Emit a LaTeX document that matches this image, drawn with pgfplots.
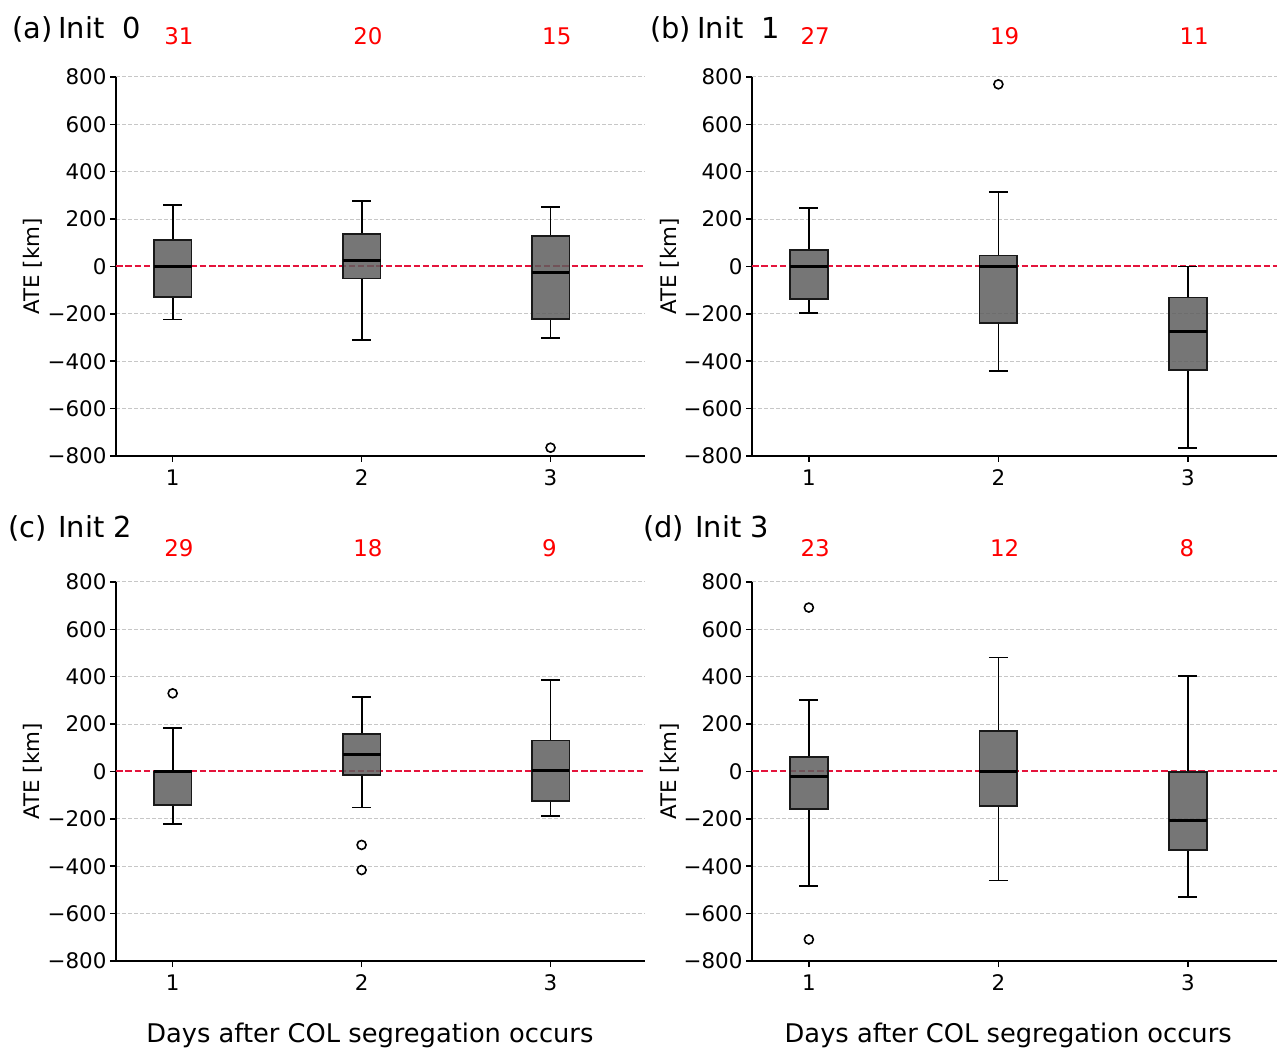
\documentclass[border=0pt]{standalone}
\usepackage{fontspec}
\setmainfont{DejaVu Sans}
\usepackage{pgfplots}
\pgfplotsset{compat=1.18}
\definecolor{zeroline}{RGB}{228,20,60}
\newcommand{\tickfont}{\fontsize{21.5}{25}\selectfont}
\tikzset{cnt/.style={anchor=west, text=red, font=\fontsize{23}{27}\selectfont, inner sep=0pt},
  zld/.style={draw=zeroline, line width=2bp, dash pattern=on 6.5bp off 2.8bp}}
\pgfplotsset{
  panel/.style={
    scale only axis, height=379bp,
    ymin=-800, ymax=800, xmin=0.7,
    axis x line=bottom, axis y line=left,
    axis line style={-, line width=1.9bp, black},
    tick align=outside, major tick length=6bp,
    every tick/.style={black, line width=1.5bp},
    xtick={1,2,3}, xticklabels={1,2,3},
    xticklabel style={yshift=-4bp},
    ytick={-800,-600,-400,-200,200,400,600,800},
    yticklabels={−800,−600,−400,−200,200,400,600,800},
    extra y ticks={0}, extra y tick labels={0},
    extra y tick style={grid=none},
    /pgf/number format/assume math mode=true,
    ticklabel style={font=\tickfont},
    ymajorgrids, grid style={black!22, line width=1bp, dash pattern=on 4bp off 2bp},
    clip=false,
    ylabel={ATE [km]},
    ylabel style={font=\fontsize{21.5}{25}\selectfont, at={(axis description cs:-0.157,0.5)}, anchor=center},
    xlabel style={font=\fontsize{25.8}{30}\selectfont},
  },
  wh/.style={solid, black, line width=1.8bp, no markers},
  boxst/.style={solid, draw=black!90, line width=1.8bp, fill=black!63, fill opacity=0.85, no markers},
  medst/.style={solid, black, line width=3bp, no markers},
  outl/.style={only marks, mark=o, mark size=4.5bp, mark options={draw=black, fill=none, line width=1.6bp}},
}
% #1 position, #2 lower whisker, #3 lower quartile, #4 median, #5 upper quartile, #6 upper whisker
\newcommand{\bxp}[6]{%
  \pgfmathsetmacro\bxL{#1-0.1}\pgfmathsetmacro\bxR{#1+0.1}%
  \pgfmathsetmacro\cpL{#1-0.05}\pgfmathsetmacro\cpR{#1+0.05}%
  \addplot[wh] coordinates {(#1,#2) (#1,#3)};
  \addplot[wh] coordinates {(#1,#5) (#1,#6)};
  \addplot[wh] coordinates {(\cpL,#2) (\cpR,#2)};
  \addplot[wh] coordinates {(\cpL,#6) (\cpR,#6)};
  \addplot[boxst] coordinates {(\bxL,#3) (\bxR,#3) (\bxR,#5) (\bxL,#5)} -- cycle;
  \addplot[medst] coordinates {(\bxL,#4) (\bxR,#4)};
}
\begin{document}
\begin{tikzpicture}
\useasboundingbox (0,0) rectangle (1277bp,1049bp);
% ---------------- (a)
\begin{axis}[panel, at={(116bp,593bp)}, anchor=south west, width=529bp, xmax=3.5]
\draw[zld] (axis cs:0.7,0) -- (axis cs:3.5,0);
\bxp{1}{-224}{-128}{0}{112}{261}
\bxp{2}{-312}{-51}{24}{138}{278}
\bxp{3}{-302}{-222}{-27}{129}{250}
\addplot[outl] coordinates {(3,-765)};
\node[cnt] at (axis cs:0.955,973) {31};
\node[cnt] at (axis cs:1.955,973) {20};
\node[cnt] at (axis cs:2.955,973) {15};
\end{axis}
% ---------------- (b)
\begin{axis}[panel, at={(752bp,593bp)}, anchor=south west, width=525bp, xmax=3.47]
\draw[zld] (axis cs:0.7,0) -- (axis cs:3.47,0);
\bxp{1}{-197}{-138}{0}{70}{247}
\bxp{2}{-440}{-239}{0}{46}{314}
\bxp{3}{-765}{-436}{-274}{-131}{0}
\addplot[outl] coordinates {(2,769)};
\node[cnt] at (axis cs:0.955,973) {27};
\node[cnt] at (axis cs:1.955,973) {19};
\node[cnt] at (axis cs:2.955,973) {11};
\end{axis}
% ---------------- (c)
\begin{axis}[panel, at={(116bp,88bp)}, anchor=south west, width=529bp, xmax=3.5,
  xlabel={Days after COL segregation occurs},
  xlabel style={at={(axis description cs:0.48,-0.195)}, anchor=center}]
\draw[zld] (axis cs:0.7,0) -- (axis cs:3.5,0);
\bxp{1}{-223}{-142}{0}{0}{184}
\bxp{2}{-152}{-15}{72}{159}{313}
\bxp{3}{-187}{-124}{3}{131}{386}
\addplot[outl] coordinates {(1,330) (2,-310) (2,-416)};
\node[cnt] at (axis cs:0.955,944) {29};
\node[cnt] at (axis cs:1.955,944) {18};
\node[cnt] at (axis cs:2.955,944) {9};
\end{axis}
% ---------------- (d)
\begin{axis}[panel, at={(752bp,88bp)}, anchor=south west, width=525bp, xmax=3.47,
  xlabel={Days after COL segregation occurs},
  xlabel style={at={(axis description cs:0.488,-0.195)}, anchor=center}]
\draw[zld] (axis cs:0.7,0) -- (axis cs:3.47,0);
\bxp{1}{-484}{-159}{-22}{62}{302}
\bxp{2}{-460}{-146}{0}{170}{481}
\bxp{3}{-531}{-333}{-205}{-3}{403}
\addplot[outl] coordinates {(1,692) (1,-709)};
\node[cnt] at (axis cs:0.955,944) {23};
\node[cnt] at (axis cs:1.955,944) {12};
\node[cnt] at (axis cs:2.955,944) {8};
\end{axis}
% ---------------- titles
\begin{scope}[every node/.style={anchor=base west, inner sep=0pt, font=\fontsize{29}{33}\selectfont}]
\node at (12bp,1010bp) {(a)};
\node at (58bp,1010bp) {Init\ \ 0};
\node at (650bp,1010bp) {(b)};
\node at (697bp,1010bp) {Init\ \ 1};
\node at (8bp,511bp) {(c)};
\node at (58bp,511bp) {Init 2};
\node at (643bp,511bp) {(d)};
\node at (695bp,511bp) {Init 3};
\end{scope}
\end{tikzpicture}
\end{document}
